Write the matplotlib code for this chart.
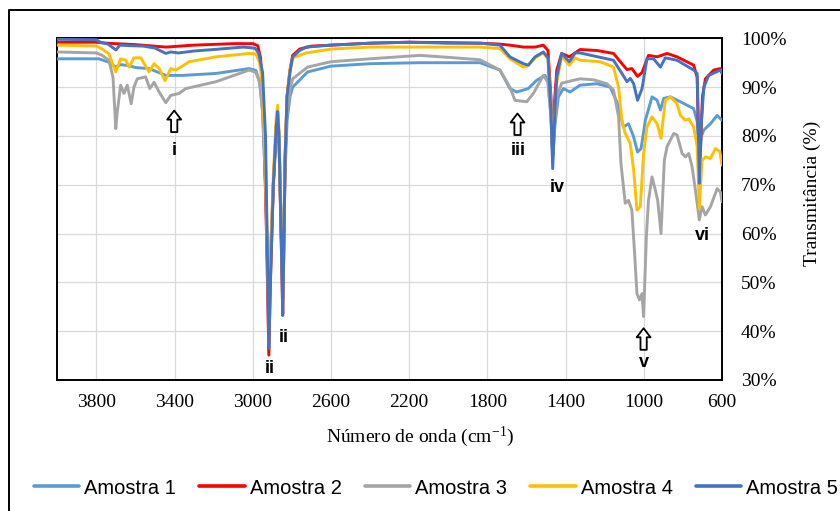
import matplotlib
matplotlib.use("Agg")
import matplotlib.pyplot as plt
from matplotlib.lines import Line2D
from matplotlib.ticker import FixedLocator, FuncFormatter

plt.rcParams['font.family'] = ['Liberation Serif', 'DejaVu Serif']
plt.rcParams['mathtext.fontset'] = 'custom'
plt.rcParams['mathtext.rm'] = 'Liberation Serif'
plt.rcParams['mathtext.it'] = 'Liberation Serif:italic'
plt.rcParams['mathtext.default'] = 'rm'

# FTIR spectra: wavenumber (cm-1) and transmittance (%)
wn_a1 = [4000, 3800, 3787, 3736, 3701, 3676, 3633, 3599, 3531, 3445, 3360, 3189, 3018, 2984,
         2965, 2950, 2935, 2925, 2918, 2910, 2895, 2880, 2873, 2866, 2858, 2850, 2847, 2842,
         2835, 2825, 2810, 2796, 2720, 2600, 2400, 2146, 1838, 1736, 1685, 1650, 1591, 1548,
         1505, 1490, 1475, 1466, 1455, 1437, 1411, 1377, 1326, 1240, 1172, 1138, 1104, 1078,
         1052, 1032, 1014, 992, 958, 932, 915, 898, 864, 813, 745, 727, 716, 705, 693, 659,
         625, 600]
t_a1 = [95.8, 95.8, 95.8, 95.1, 94.1, 94.6, 94.4, 94.0, 93.8, 92.4, 92.4, 92.8, 93.8, 93.4,
        91.0, 85.0, 70.0, 55.0, 42.0, 55.0, 70.0, 80.0, 83.0, 78.0, 65.0, 53.0, 47.0, 58.0,
        72.0, 83.0, 88.0, 90.0, 93.1, 94.3, 94.8, 95.0, 95.0, 93.5, 89.7, 89.0, 89.7, 91.4,
        92.4, 91.0, 84.0, 75.0, 82.0, 88.0, 89.7, 89.0, 90.4, 90.7, 90.0, 87.0, 81.8, 82.5,
        79.8, 76.7, 77.4, 83.2, 88.0, 87.3, 85.3, 87.7, 88.0, 87.0, 85.6, 83.0, 74.0, 80.0,
        81.2, 82.5, 84.2, 83.2]

wn_a2 = [4000, 3800, 3750, 3700, 3600, 3445, 3300, 3100, 3000, 2975, 2960, 2945, 2930, 2918,
         2910, 2895, 2880, 2873, 2866, 2858, 2850, 2847, 2842, 2835, 2825, 2810, 2796, 2760,
         2700, 2400, 2200, 2000, 1838, 1736, 1685, 1616, 1556, 1514, 1490, 1475, 1466, 1455,
         1445, 1420, 1381, 1351, 1326, 1240, 1155, 1112, 1086, 1061, 1032, 1009, 976, 932,
         881, 830, 745, 727, 716, 700, 685, 642, 608, 600]
t_a2 = [99.2, 99.2, 99.0, 98.9, 98.7, 98.2, 98.6, 98.9, 98.9, 98.5, 96.0, 85.0, 60.0, 35.1,
        50.0, 70.0, 82.0, 84.7, 80.0, 65.0, 50.0, 43.5, 55.0, 75.0, 88.0, 93.5, 96.5, 97.8,
        98.4, 99.0, 99.2, 99.1, 99.0, 98.8, 98.6, 98.2, 98.2, 98.6, 97.5, 88.0, 76.0, 88.0,
        93.5, 96.9, 96.2, 97.0, 97.7, 97.5, 96.9, 94.8, 93.6, 93.8, 92.2, 93.0, 96.5, 96.2,
        96.9, 96.2, 94.5, 92.0, 72.0, 88.0, 91.7, 93.5, 93.8, 93.0]

wn_a3 = [4000, 3800, 3770, 3736, 3715, 3701, 3693, 3676, 3659, 3642, 3622, 3608, 3591, 3548,
         3527, 3505, 3479, 3445, 3420, 3377, 3343, 3189, 3018, 2984, 2965, 2950, 2935, 2925,
         2918, 2910, 2895, 2880, 2873, 2866, 2858, 2850, 2847, 2842, 2835, 2825, 2810, 2796,
         2720, 2600, 2400, 2146, 2000, 1838, 1736, 1685, 1659, 1599, 1565, 1514, 1490, 1475,
         1466, 1455, 1445, 1420, 1360, 1326, 1257, 1189, 1155, 1129, 1117, 1095, 1078, 1061,
         1047, 1035, 1022, 1009, 1001, 987, 976, 958, 941, 929, 912, 895, 881, 847, 830, 804,
         787, 770, 753, 736, 716, 702, 685, 659, 625, 608, 600]
t_a3 = [97.2, 97.0, 96.5, 95.5, 92.0, 81.5, 85.0, 90.4, 88.7, 90.4, 86.6, 90.0, 91.7, 92.1,
        89.7, 91.0, 89.0, 86.8, 88.3, 88.7, 89.7, 91.1, 93.5, 93.0, 91.0, 85.0, 70.0, 55.0,
        45.0, 55.0, 70.0, 82.0, 84.3, 80.0, 67.0, 55.0, 50.0, 60.0, 75.0, 85.0, 89.5, 91.7,
        94.1, 95.2, 95.8, 96.5, 96.1, 95.6, 93.5, 90.0, 87.3, 87.0, 88.7, 92.4, 91.0, 84.0,
        76.0, 83.0, 88.0, 90.8, 91.4, 91.7, 91.5, 90.7, 89.4, 83.9, 74.4, 66.2, 66.8, 64.8,
        55.9, 47.7, 46.4, 47.7, 43.0, 59.3, 66.8, 71.6, 68.9, 66.8, 60.0, 75.0, 77.8, 80.5,
        80.2, 76.4, 75.7, 76.4, 73.7, 68.9, 62.8, 65.5, 63.8, 65.5, 69.2, 68.5, 66.5]

wn_a4 = [4000, 3800, 3770, 3736, 3701, 3676, 3650, 3633, 3608, 3573, 3531, 3505, 3479, 3449,
         3420, 3394, 3368, 3326, 3189, 3018, 2984, 2965, 2950, 2935, 2925, 2918, 2910, 2895,
         2880, 2873, 2866, 2858, 2850, 2847, 2842, 2835, 2825, 2810, 2796, 2727, 2600, 2400,
         2000, 1838, 1736, 1685, 1616, 1591, 1556, 1514, 1490, 1475, 1466, 1455, 1445, 1420,
         1381, 1351, 1326, 1223, 1155, 1129, 1112, 1095, 1069, 1052, 1035, 1018, 1001, 984,
         958, 932, 912, 890, 864, 830, 813, 787, 770, 745, 727, 716, 702, 685, 659, 634, 611,
         600]
t_a4 = [98.6, 98.4, 97.8, 96.8, 93.1, 95.8, 95.5, 94.1, 96.0, 96.0, 93.1, 94.8, 93.8, 91.3,
        93.8, 93.5, 94.1, 95.2, 96.2, 96.9, 96.8, 95.0, 90.0, 75.0, 55.0, 40.0, 55.0, 72.0,
        84.0, 86.3, 81.0, 66.0, 52.0, 46.0, 57.0, 76.0, 88.0, 93.5, 96.0, 97.0, 97.8, 98.2,
        98.2, 98.2, 97.9, 95.8, 94.1, 94.4, 96.0, 97.0, 95.8, 86.0, 76.0, 85.0, 91.0, 96.3,
        94.5, 96.0, 95.5, 95.2, 94.1, 90.0, 83.2, 80.5, 78.4, 73.0, 64.8, 65.5, 76.4, 81.8,
        83.9, 82.5, 79.5, 87.3, 88.0, 86.6, 84.2, 83.2, 83.5, 81.8, 77.8, 65.2, 75.0, 75.7,
        75.4, 77.4, 76.8, 74.0]

wn_a5 = [4000, 3800, 3780, 3740, 3700, 3680, 3640, 3560, 3500, 3445, 3420, 3380, 3300, 3200,
         3050, 2990, 2970, 2950, 2935, 2925, 2918, 2910, 2895, 2880, 2873, 2866, 2858, 2850,
         2847, 2842, 2835, 2825, 2810, 2796, 2760, 2727, 2600, 2400, 2200, 2000, 1838, 1736,
         1685, 1616, 1591, 1556, 1514, 1490, 1475, 1466, 1455, 1445, 1420, 1381, 1351, 1326,
         1155, 1112, 1086, 1069, 1052, 1032, 1009, 984, 950, 915, 890, 830, 745, 727, 720,
         716, 710, 693, 668, 608, 600]
t_a5 = [99.8, 99.7, 99.2, 98.8, 97.6, 98.6, 98.5, 98.4, 98.0, 96.9, 97.2, 97.0, 97.4, 97.7,
        98.2, 98.0, 97.0, 93.0, 80.0, 55.0, 36.5, 50.0, 70.0, 82.0, 85.0, 80.0, 65.0, 50.0,
        43.2, 55.0, 75.0, 88.0, 93.0, 96.2, 97.5, 98.2, 98.6, 99.0, 99.2, 99.0, 99.0, 98.6,
        96.2, 94.8, 94.5, 96.2, 97.2, 96.0, 85.0, 73.3, 85.0, 92.1, 96.9, 95.2, 97.0, 97.0,
        95.5, 92.8, 91.1, 91.8, 90.7, 87.3, 89.7, 95.8, 95.8, 94.1, 96.0, 95.5, 93.5, 92.8,
        80.0, 70.3, 80.0, 90.0, 92.4, 93.5, 92.8]

series_names = ['Amostra 1', 'Amostra 2', 'Amostra 3', 'Amostra 4', 'Amostra 5']
series_colors = ['#5B9BD5', '#FF0000', '#A5A5A5', '#FFC000', '#4472C4']
x_ticks = [3800, 3400, 3000, 2600, 2200, 1800, 1400, 1000, 600]
y_ticks = [30, 40, 50, 60, 70, 80, 90, 100]

# band labels: (text, wavenumber, transmittance at baseline)
band_labels = [('i', 3402, 76.0), ('ii', 2915, 31.4), ('ii', 2842, 37.8), ('iii', 1642, 76.0),
               ('iv', 1445, 68.5), ('v', 1001, 32.7), ('vi', 702, 58.7)]
# hollow arrows: (wavenumber, transmittance at tip)
band_arrows = [(3402, 85.2), (1646, 84.6), (1001, 40.6)]

W, H = 840, 511
fig = plt.figure(figsize=(W / 100, H / 100), dpi=100)
ax = fig.add_axes([57.3 / W, 1 - 380 / H, (722 - 57.3) / W, (380 - 38.3) / H])

spectra = [(wn_a1, t_a1), (wn_a2, t_a2), (wn_a3, t_a3), (wn_a4, t_a4), (wn_a5, t_a5)]
for i, ((wn, t), name, col) in enumerate(zip(spectra, series_names, series_colors)):
    ax.plot(wn, t, color=col, lw=2.1, label=name, zorder=3 + i,
            solid_joinstyle='round', solid_capstyle='round')

ax.set_xlim(4000, 600)
ax.set_ylim(30, 100)
ax.xaxis.set_major_locator(FixedLocator(x_ticks))
ax.yaxis.set_major_locator(FixedLocator(y_ticks))
ax.yaxis.set_major_formatter(FuncFormatter(lambda v, p: f'{v:.0f}%'))
ax.yaxis.tick_right()
ax.tick_params(axis='both', length=0, labelsize=14, colors='black')
ax.tick_params(axis='y', pad=13.7)
ax.tick_params(axis='x', pad=10)
ax.grid(True, color='#d9d9d9', lw=0.9, zorder=0)
ax.set_axisbelow(True)
for s in ax.spines.values():
    s.set_color('black')
    s.set_linewidth(1.4)

for txt, x, y in band_labels:
    ax.text(x, y, txt, ha='center', va='baseline', fontsize=13, fontweight='bold',
            family=['Liberation Sans', 'DejaVu Sans'], zorder=10)
for x, y in band_arrows:
    ax.annotate('', xy=(x, y), xytext=(0, -15.5), textcoords='offset points',
                arrowprops=dict(arrowstyle='simple,head_length=0.65,head_width=1.0,tail_width=0.45',
                                mutation_scale=10, fc='white', ec='black', lw=1.3,
                                shrinkA=0, shrinkB=0), zorder=10)

fig.text(420 / W, 1 - 437 / H, r'Número de onda (cm$^{-1}$)', ha='center', va='center', fontsize=14)
fig.text(812 / W, 1 - 193 / H, 'Transmitância (%)', rotation=90, ha='center', va='center', fontsize=14)

leg = fig.legend(loc='center', bbox_to_anchor=(436 / W, 1 - 488 / H), ncol=5, frameon=False,
                 handlelength=2.25, handletextpad=0.25, columnspacing=1.15,
                 prop={'family': ['Liberation Sans', 'DejaVu Sans'], 'size': 14.5})
for h in leg.get_lines():
    h.set_linewidth(2.6)

# outer chart border
fig.add_artist(Line2D([9 / W, 9 / W, 1.01], [-0.01, 1 - 10 / H, 1 - 10 / H],
                      transform=fig.transFigure, color='black', lw=1.4))

fig.savefig('out.png', dpi=100)
